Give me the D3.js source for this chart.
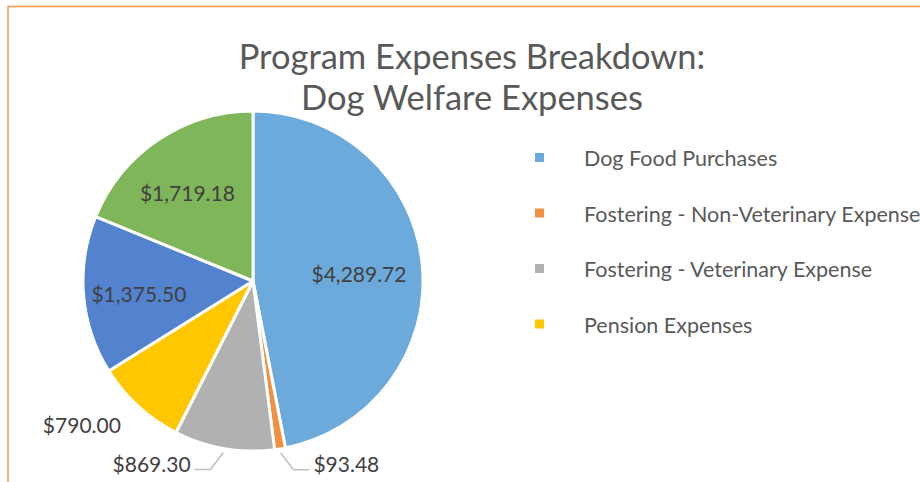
<!DOCTYPE html>
<html lang="en">
<head>
    <meta charset="UTF-8">
    <title>Dog Welfare Expenses</title>
    <script src="https://d3js.org/d3.v7.min.js"></script>
    <style>
        body { margin: 0; background: #fff; }
        text { font-family: Lato, 'Open Sans', sans-serif; }
    </style>
</head>
<body>
<script>

    const width  = 920;
    const height = 482;

    // slices in drawing order (clockwise from 12 o'clock)
    const categories = [
        'Dog Food Purchases',
        'Fostering - Non-Veterinary Expenses',
        'Fostering - Veterinary Expense',
        'Pension Expenses',
        'Other Expenses 1',
        'Other Expenses 2'
    ];
    const amounts = [4289.72, 93.48, 869.30, 790.00, 1375.50, 1719.18];
    const colors  = ['#6CAADC', '#F2903F', '#B1B1B1', '#FFC700', '#5383CF', '#80B65A'];
    // only the first four fit in the legend box
    const legendShown = 4;

    const cx = 253, cy = 281, radius = 170;

    const data = categories.map((c, i) => ({name: c, value: amounts[i], color: colors[i]}));

    const svg = d3.select("body")
            .append("svg")
            .attr("width", width)
            .attr("height", height);

    // chart frame, runs off the right and bottom of the picture
    svg.append("rect")
            .attr("x", 8)
            .attr("y", 6.5)
            .attr("width", 960)
            .attr("height", 520)
            .attr("fill", "none")
            .attr("stroke", "#F79646")
            .attr("stroke-width", 1.5);

    svg.append("text")
            .attr("x", 472)
            .attr("y", 69)
            .attr("text-anchor", "middle")
            .attr("fill", "#595959")
            .style("font-size", "34.5px")
            .text("Program Expenses Breakdown:");
    svg.append("text")
            .attr("x", 472)
            .attr("y", 110)
            .attr("text-anchor", "middle")
            .attr("fill", "#595959")
            .style("font-size", "34.5px")
            .text("Dog Welfare Expenses");

    const pie = d3.pie().sort(null).value(d => d.value);
    const arc = d3.arc().innerRadius(0).outerRadius(radius);
    const arcs = pie(data);

    const g = svg.append("g").attr("transform", "translate(" + [cx, cy] + ")");

    g.selectAll(".slice")
            .data(arcs)
            .enter()
            .append("path").attr("class", "slice")
            .attr("d", arc)
            .attr("fill", d => d.data.color)
            .attr("stroke", "#fff")
            .attr("stroke-width", 3)
            .attr("stroke-linejoin", "round");

    const fmt = d3.format("$,.2f");
    const mid = d => (d.startAngle + d.endAngle) / 2;
    const polar = (a, r) => [Math.sin(a) * r, -Math.cos(a) * r];

    // label placement: inside / callout left / callout right / outside no line
    const labelMode = ['in', 'right', 'left', 'out', 'in', 'in'];
    const labelColor = '#404040';

    arcs.forEach((d, i) => {
        const a = mid(d);
        const mode = labelMode[i];
        if (mode === 'in') {
            const p = polar(a, radius * 0.65);
            g.append("text")
                    .attr("x", p[0] - 4).attr("y", p[1] + 4)
                    .attr("text-anchor", "middle")
                    .attr("dy", "0.36em")
                    .attr("fill", labelColor)
                    .style("font-size", "21px")
                    .text(fmt(d.value));
        } else if (mode === 'out') {
            const p = polar(a, radius * 1.15);
            g.append("text")
                    .attr("x", p[0]).attr("y", p[1])
                    .attr("text-anchor", "end")
                    .attr("dy", "0.36em")
                    .attr("fill", labelColor)
                    .style("font-size", "21px")
                    .text(fmt(d.value));
        } else {
            const p0 = polar(a, radius + 4);
            const ly = p0[1] + 17;
            const dir = mode === 'right' ? 1 : -1;
            const p1 = [p0[0] + dir * Math.abs(ly - p0[1]) * 0.75, ly];
            const p2 = [p1[0] + dir * 16, ly];
            g.append("polyline")
                    .attr("points", [p0, p1, p2].map(p => p.join(",")).join(" "))
                    .attr("fill", "none")
                    .attr("stroke", "#BFBFBF")
                    .attr("stroke-width", 1.5);
            g.append("text")
                    .attr("x", p2[0] + dir * 4).attr("y", ly - 5)
                    .attr("text-anchor", dir > 0 ? "start" : "end")
                    .attr("dy", "0.36em")
                    .attr("fill", labelColor)
                    .style("font-size", "21px")
                    .text(fmt(d.value));
        }
    });

    const legend = svg.append("g").attr("transform", "translate(535,153)");
    const item = legend.selectAll(".item")
            .data(data.slice(0, legendShown))
            .enter()
            .append("g").attr("class", "item")
            .attr("transform", (d, i) => "translate(0," + i * 55.5 + ")");
    item.append("rect")
            .attr("width", 9).attr("height", 9)
            .attr("fill", d => d.color);
    item.append("text")
            .attr("x", 49)
            .attr("y", 5.5)
            .attr("dy", "0.36em")
            .attr("fill", "#595959")
            .style("font-size", "21.5px")
            .text(d => d.name);

</script>
</body>
</html>
